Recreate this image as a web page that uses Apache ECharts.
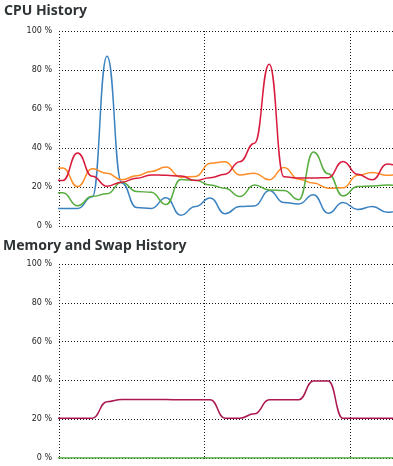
<!DOCTYPE html>
<html><head><meta charset="utf-8">
<script src="https://cdn.jsdelivr.net/npm/echarts@6/dist/echarts.min.js"></script>
<style>html,body{margin:0;padding:0;background:#fff}#c{width:393px;height:466px}</style>
</head><body><div id="c"></div>
<script>
// time axis (seconds): first sample time and sample step
const sampleStart = -2.25;
const sampleStep = 3.037;
const timeMax = 68.8;
const timeGrid = 30;

// CPU history (%), one value per sample
const cpu1 = [9, 9, 9, 15, 87, 22, 9.5, 9, 14.5, 5.5, 10, 14.3, 6.3, 10, 10.3, 18.2, 12, 11.3, 16, 6.5, 12, 8.5, 10, 7, 9];
const cpu2 = [29, 29.7, 20.2, 29.3, 27, 23.7, 25.8, 28, 30.2, 25, 25.4, 32.2, 33, 26.2, 27.1, 23.7, 30, 24, 22, 19.4, 19.6, 26, 27.5, 26, 27];
const cpu3 = [17.3, 17, 10.4, 15.2, 16.5, 22.5, 17.7, 17.3, 11, 23.8, 23.5, 21, 19.4, 15.1, 21, 18.5, 18.2, 13.5, 38, 26.8, 15.4, 20.2, 20.5, 21, 20.5];
const cpu4 = [25, 23.3, 37.4, 25.5, 20.4, 22.5, 24.5, 26.2, 26, 25.6, 23.3, 24.8, 26.5, 33, 42.5, 83, 25.2, 24.6, 24.6, 24.8, 33.1, 26.5, 23.7, 31.8, 29];

// Memory and swap history (%)
const memory = [20.5, 20.5, 20.5, 20.5, 29, 30.2, 30.2, 30.1, 30.1, 30, 30, 30, 20.5, 20.5, 22.8, 30, 30, 30, 39.7, 39.7, 20.5, 20.5, 20.5, 20.5, 20.5];
const swap = [0, 0, 0, 0, 0, 0, 0, 0, 0, 0, 0, 0, 0, 0, 0, 0, 0, 0, 0, 0, 0, 0, 0, 0, 0];

const yTickLabels = ['0 %', '20 %', '40 %', '60 %', '80 %', '100 %'];
const titles = ['CPU History', 'Memory and Swap History'];

const cpuColors = ['#3b82c0', '#ff8c26', '#57ad3f', '#d81b3c'];
const memColor = '#ab1852';
const swapColor = '#49a835';

function pairs(arr) { return arr.map((v, i) => [sampleStart + i * sampleStep, v]); }

const dotted = { color: '#1a1a1a', width: 1, type: [1, 2] };

function xAxis(gi) {
  return {
    type: 'value', gridIndex: gi, min: 0, max: timeMax, interval: timeGrid,
    axisLabel: { show: false }, axisLine: { show: false },
    axisTick: { show: true, length: 3, lineStyle: dotted },
    splitLine: { show: true, lineStyle: dotted, showMaxLine: false }
  };
}
function yAxis(gi) {
  return {
    type: 'value', gridIndex: gi, min: 0, max: 100, interval: 20,
    axisLine: { show: false }, axisTick: { show: false },
    axisLabel: {
      margin: 7, fontSize: 8, fontFamily: 'DejaVu Sans', color: '#1e1e1e',
      formatter: v => yTickLabels[Math.round(v / 20)]
    },
    splitLine: { show: true, lineStyle: dotted }
  };
}
function line(data, color, gi) {
  return {
    type: 'line', xAxisIndex: gi, yAxisIndex: gi, data: pairs(data),
    showSymbol: false, smooth: 0.5, smoothMonotone: 'x',
    lineStyle: { color: color, width: 1.5 }, itemStyle: { color: color },
    silent: true
  };
}

const titleStyle = { fontFamily: 'Noto Sans', fontWeight: 'bold', fontSize: 14, lineHeight: 14, color: '#2e3436' };
const chart = echarts.init(document.getElementById('c'), null, { renderer: 'canvas' });
chart.setOption({
  animation: false,
  backgroundColor: '#fff',
  title: [
    { text: titles[0], left: 4, top: 4, padding: 0, textStyle: titleStyle },
    { text: titles[1], left: 3, top: 239, padding: 0, textStyle: titleStyle }
  ],
  grid: [
    { left: 59, top: 31, width: 334, height: 195 },
    { left: 59, top: 264, width: 334, height: 194 }
  ],
  xAxis: [xAxis(0), xAxis(1)],
  yAxis: [yAxis(0), yAxis(1)],
  series: [
    line(cpu1, cpuColors[0], 0),
    line(cpu2, cpuColors[1], 0),
    line(cpu3, cpuColors[2], 0),
    line(cpu4, cpuColors[3], 0),
    line(memory, memColor, 1),
    line(swap, swapColor, 1)
  ]
});
</script></body></html>
